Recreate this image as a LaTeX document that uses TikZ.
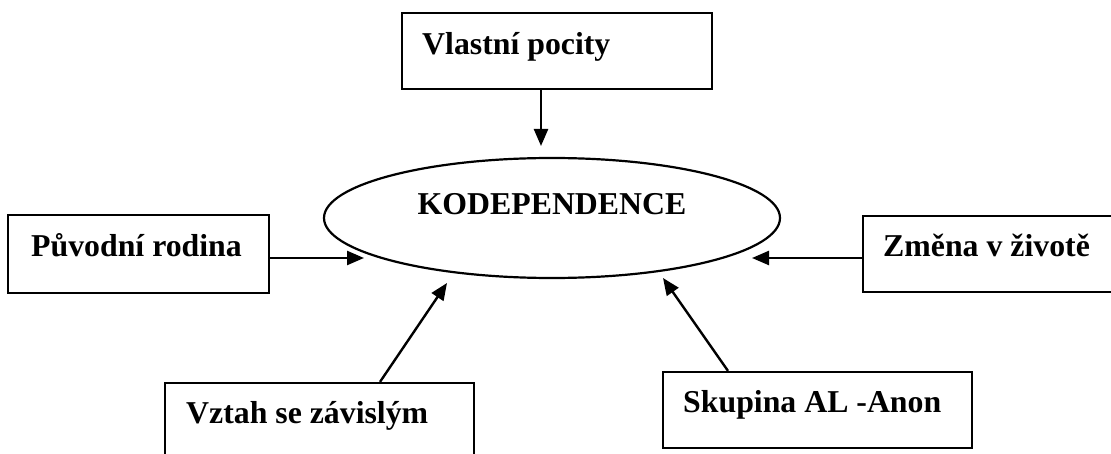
\documentclass[tikz,border=0pt]{standalone}
\usepackage{fontspec}
\setmainfont{Liberation Serif}
\usetikzlibrary{arrows.meta,shapes.geometric}
\begin{document}
\begin{tikzpicture}[x=1pt,y=-1pt,
  boxnode/.style={draw,line width=2.2pt,rectangle,inner sep=0pt},
  lbl/.style={anchor=base west,inner sep=0pt,font=\bfseries\fontsize{31.8}{38}\selectfont},
  conn/.style={line width=2.4pt,-{Triangle[length=17pt,width=14pt]}}]
\useasboundingbox (0,0) rectangle (1111,454);
% central ellipse
\node[draw,line width=2.2pt,ellipse,minimum width=456pt,minimum height=120pt,inner sep=0pt] (kod) at (552,218) {};
\node[anchor=base,inner sep=0pt,font=\bfseries\fontsize{31.8}{38}\selectfont] (kodt) at (552,215) {KODEPENDENCE};
% boxes
\node[boxnode,minimum width=310pt,minimum height=76pt] (top) at (557,51) {};
\node[lbl] (topt) at (422,55) {Vlastní pocity};
\node[boxnode,minimum width=261pt,minimum height=78pt] (left) at (138.5,254) {};
\node[lbl] (leftt) at (31,257) {Původní rodina};
\node[boxnode,minimum width=262pt,minimum height=76pt] (right) at (994,254) {};
\node[lbl] (rightt) at (883,257) {Změna v životě};
\node[boxnode,minimum width=309pt,minimum height=87pt] (vz) at (319.5,426.5) {};
\node[lbl] (vzt) at (186,423) {Vztah se závislým};
\node[boxnode,minimum width=309pt,minimum height=76pt] (sk) at (817.5,410) {};
\node[lbl] (skt) at (683,412) {Skupina AL -Anon};
% arrow tips
\coordinate (tTop) at (541,146);
\coordinate (tLeft) at (364,258);
\coordinate (tRight) at (752,258);
\coordinate (tVz) at (447,283);
\coordinate (tSk) at (663,278);
\coordinate (sVz) at (380,0);
\coordinate (sSk) at (728,0);
% connectors
\draw[conn] (tTop |- top.south) -- (tTop);
\draw[conn] (left.east |- tLeft) -- (tLeft);
\draw[conn] (right.west |- tRight) -- (tRight);
\draw[conn] (sVz |- vz.north) -- (tVz);
\draw[conn] (sSk |- sk.north) -- (tSk);
\end{tikzpicture}
\end{document}
